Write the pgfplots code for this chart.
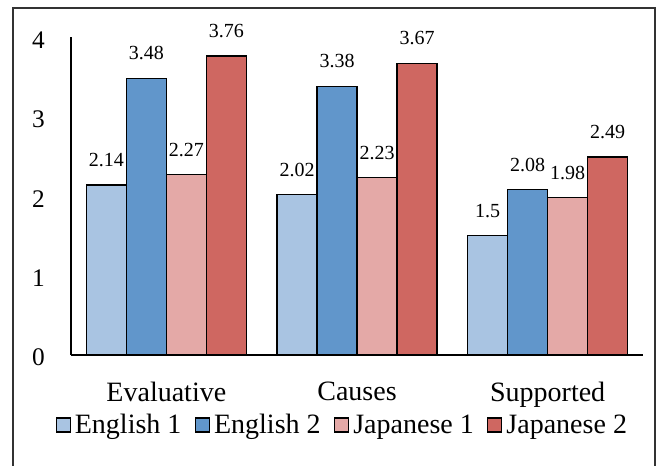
\documentclass[border=0pt]{standalone}
\usepackage{fontspec}
\setmainfont{Liberation Serif}
\usepackage{pgfplots}
\pgfplotsset{compat=1.18}

\definecolor{engA}{HTML}{A9C4E2}
\definecolor{engB}{HTML}{6196CB}
\definecolor{japA}{HTML}{E4A9A7}
\definecolor{japB}{HTML}{CF6761}

\begin{document}
\begin{tikzpicture}
% page = 661x465 px, 1px = 0.75pt, origin at the axis corner
\useasboundingbox (-53.25pt,-82.5pt) rectangle (442.5pt,266.25pt);
\draw[black!80, line width=0.9pt] (-43.5pt,-95pt) -- (-43.5pt,260.25pt) -- (438pt,260.25pt) -- (438pt,-95pt);

\begin{axis}[
    at={(0pt,0pt)}, anchor=south west,
    scale only axis,
    width=429pt, height=238.5pt,
    ybar=0pt, bar width=30pt,
    xmin=-0.5, xmax=2.5,
    ymin=0, ymax=4,
    axis x line*=bottom, axis y line*=left,
    axis line style={line width=1pt, -},
    xtick={0,1,2},
    xticklabels={Evaluative, Causes, Supported},
    ytick={0,1,2,3,4},
    major tick length=0pt,
    /pgf/number format/assume math mode=true,
    xticklabel style={font=\fontsize{21}{25}\selectfont, inner sep=0pt, yshift=-20pt},
    yticklabel style={font=\fontsize{19}{23}\selectfont, inner sep=0pt, xshift=-19.5pt, yshift=-2pt},
    nodes near coords,
    every node near coord/.append style={font=\fontsize{15}{18}\selectfont, inner sep=0pt, yshift=13pt, black},
    legend columns=4,
    legend style={draw=none, fill=none, at={(0.476,-0.22)}, anchor=center,
        font=\fontsize{21}{25}\selectfont,
        /tikz/every even column/.append style={column sep=7pt},
        nodes={inner sep=3pt}},
    legend image code/.code={\draw[#1, line width=1pt] (0pt,-5.25pt) rectangle (10.5pt,5.25pt);},
]
\addplot[draw=black, line width=1.1pt, fill=engA] coordinates {(0,2.14) (1,2.02) (2,1.5)};
\addplot[draw=black, line width=1.1pt, fill=engB] coordinates {(0,3.48) (1,3.38) (2,2.08)};
\addplot[draw=black, line width=1.1pt, fill=japA] coordinates {(0,2.27) (1,2.23) (2,1.98)};
\addplot[draw=black, line width=1.1pt, fill=japB] coordinates {(0,3.76) (1,3.67) (2,2.49)};
\legend{English 1, English 2, Japanese 1, Japanese 2}
\end{axis}
\end{tikzpicture}
\end{document}
